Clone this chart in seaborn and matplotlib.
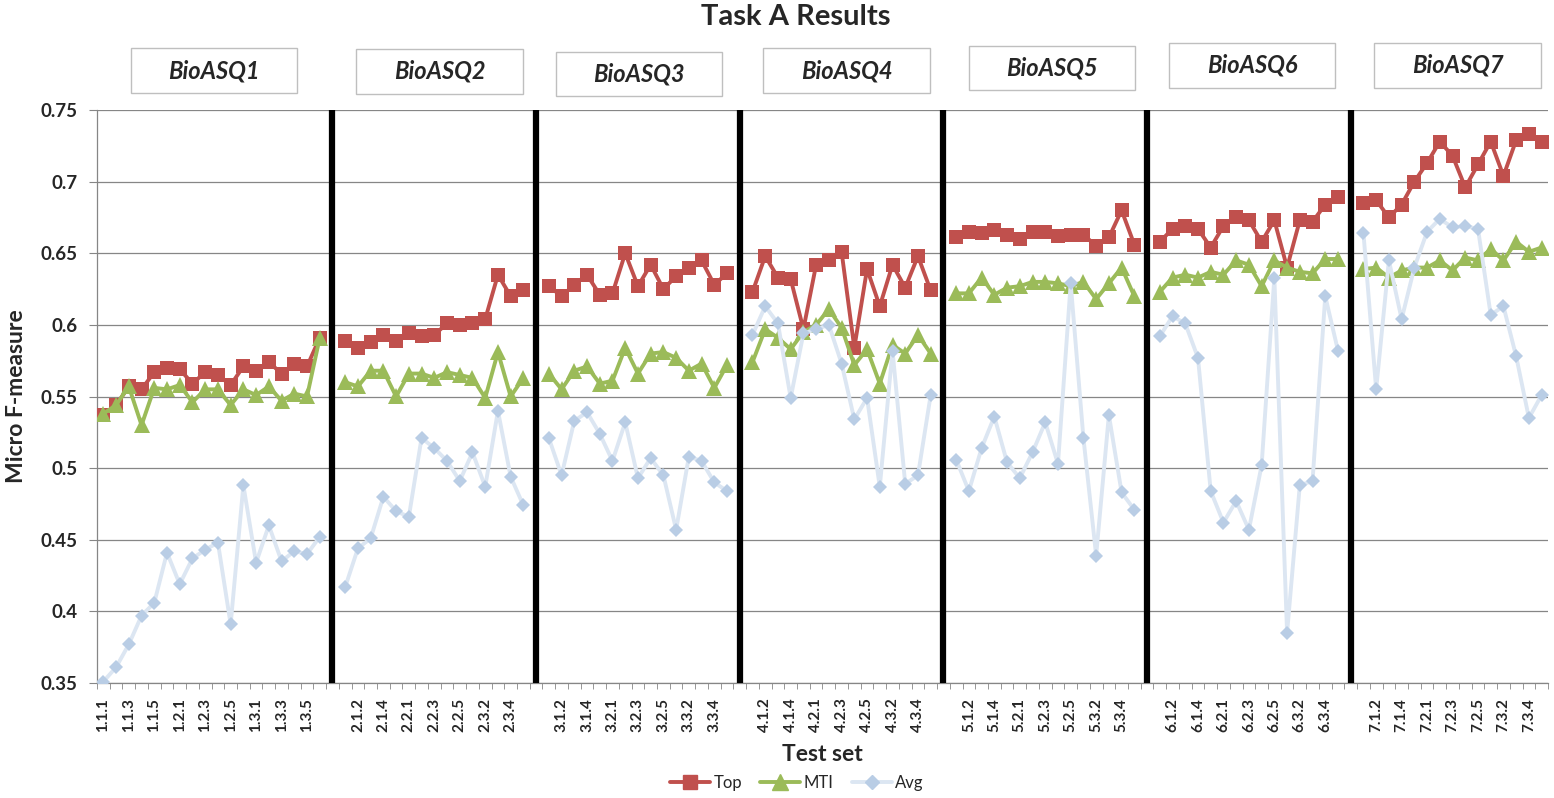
import matplotlib
matplotlib.use('Agg')
import matplotlib.pyplot as plt
from matplotlib.lines import Line2D
from matplotlib.patches import Rectangle
import seaborn as sns
import numpy as np
import pandas as pd

# editions and their test sets (BioASQ1 had 3 batches of 6, the rest 3 batches of 5)
editions = ['BioASQ1', 'BioASQ2', 'BioASQ3', 'BioASQ4', 'BioASQ5', 'BioASQ6', 'BioASQ7']
sets_per_batch = [6, 5, 5, 5, 5, 5, 5]

# Micro F-measure, one line per edition
top_scores = [
    0.537, 0.544, 0.557, 0.555, 0.567, 0.570, 0.569, 0.559, 0.567, 0.565, 0.558, 0.571, 0.568, 0.574, 0.566, 0.573, 0.571, 0.591,
    0.589, 0.584, 0.588, 0.593, 0.589, 0.594, 0.592, 0.593, 0.601, 0.600, 0.601, 0.604, 0.635, 0.620, 0.624,
    0.627, 0.620, 0.628, 0.635, 0.621, 0.622, 0.650, 0.627, 0.642, 0.625, 0.634, 0.640, 0.645, 0.628, 0.636,
    0.623, 0.648, 0.633, 0.632, 0.597, 0.642, 0.645, 0.651, 0.584, 0.639, 0.613, 0.642, 0.626, 0.648, 0.624,
    0.661, 0.665, 0.664, 0.666, 0.663, 0.660, 0.665, 0.665, 0.662, 0.663, 0.663, 0.655, 0.661, 0.680, 0.656,
    0.658, 0.667, 0.669, 0.667, 0.654, 0.669, 0.675, 0.673, 0.658, 0.673, 0.640, 0.673, 0.672, 0.684, 0.689,
    0.685, 0.687, 0.675, 0.684, 0.700, 0.713, 0.728, 0.718, 0.696, 0.712, 0.728, 0.704, 0.729, 0.733, 0.728,
]
mti_scores = [
    0.538, 0.544, 0.557, 0.530, 0.556, 0.555, 0.558, 0.546, 0.555, 0.555, 0.544, 0.555, 0.551, 0.557, 0.547, 0.552, 0.550, 0.591,
    0.560, 0.557, 0.568, 0.568, 0.550, 0.566, 0.566, 0.563, 0.567, 0.565, 0.563, 0.549, 0.581, 0.550, 0.563,
    0.566, 0.555, 0.568, 0.571, 0.559, 0.561, 0.584, 0.566, 0.580, 0.581, 0.577, 0.568, 0.573, 0.556, 0.572,
    0.574, 0.597, 0.591, 0.583, 0.595, 0.600, 0.611, 0.598, 0.572, 0.583, 0.559, 0.586, 0.580, 0.593, 0.580,
    0.622, 0.622, 0.633, 0.621, 0.626, 0.627, 0.630, 0.630, 0.629, 0.627, 0.630, 0.618, 0.629, 0.640, 0.620,
    0.623, 0.633, 0.635, 0.633, 0.637, 0.635, 0.645, 0.642, 0.627, 0.645, 0.640, 0.637, 0.636, 0.646, 0.646,
    0.639, 0.640, 0.633, 0.638, 0.640, 0.640, 0.645, 0.638, 0.647, 0.645, 0.653, 0.645, 0.658, 0.651, 0.654,
]
avg_scores = [
    0.351, 0.361, 0.377, 0.397, 0.406, 0.441, 0.419, 0.437, 0.443, 0.448, 0.391, 0.488, 0.434, 0.460, 0.435, 0.442, 0.440, 0.452,
    0.417, 0.444, 0.451, 0.480, 0.470, 0.466, 0.521, 0.514, 0.505, 0.491, 0.511, 0.487, 0.540, 0.494, 0.474,
    0.521, 0.495, 0.533, 0.539, 0.524, 0.505, 0.532, 0.493, 0.507, 0.495, 0.457, 0.508, 0.505, 0.490, 0.484,
    0.593, 0.613, 0.601, 0.549, 0.594, 0.597, 0.600, 0.573, 0.534, 0.549, 0.487, 0.582, 0.489, 0.495, 0.551,
    0.506, 0.484, 0.514, 0.536, 0.504, 0.493, 0.511, 0.532, 0.503, 0.629, 0.521, 0.439, 0.537, 0.483, 0.471,
    0.592, 0.606, 0.601, 0.577, 0.484, 0.462, 0.477, 0.457, 0.502, 0.633, 0.385, 0.488, 0.491, 0.620, 0.582,
    0.664, 0.555, 0.645, 0.604, 0.640, 0.665, 0.674, 0.668, 0.669, 0.667, 0.607, 0.613, 0.578, 0.535, 0.551,
]

# category axis: test sets, with one blank slot between editions
categories = []
set_names = []
set_edition = []
set_pos = []
for e, n in enumerate(sets_per_batch, 1):
    if e > 1:
        categories.append('')
    for b in range(1, 4):
        for t in range(1, n + 1):
            name = f'{e}.{b}.{t}'
            set_pos.append(len(categories))
            categories.append(name)
            set_names.append(name)
            set_edition.append(editions[e - 1])
separators = [i for i, c in enumerate(categories) if c == '']

df = pd.DataFrame({
    'pos': set_pos * 3,
    'test_set': set_names * 3,
    'edition': set_edition * 3,
    'series': ['Top'] * len(set_names) + ['MTI'] * len(set_names) + ['Avg'] * len(set_names),
    'score': top_scores + mti_scores + avg_scores,
})

W, H = 1554, 798
sns.set_style('white')
plt.rcParams['font.family'] = ['Lato', 'DejaVu Sans']

fig = plt.figure(figsize=(W / 100, H / 100), dpi=100)
ax = fig.add_axes([97 / W, 1 - 683 / H, (1548 - 97) / W, (683 - 110) / H])

red, green = '#C0504D', '#9BBB59'
avg_line, avg_mark = '#DCE6F2', '#B9CDE5'
styles = {
    'Top': dict(color=red, marker='s', markersize=9.5, markerfacecolor=red, markeredgecolor=red),
    'MTI': dict(color=green, marker='^', markersize=11, markerfacecolor=green, markeredgecolor=green),
    'Avg': dict(color=avg_line, marker='D', markersize=6.8, markerfacecolor=avg_mark, markeredgecolor=avg_mark),
}
for i, s in enumerate(['Top', 'MTI', 'Avg']):
    sns.lineplot(data=df[df.series == s], x='pos', y='score', units='edition', estimator=None,
                 linewidth=2.8, markeredgewidth=0, ax=ax, legend=False, zorder=3 + i, **styles[s])

# thick black bars between editions
ax.vlines(separators, 0.35, 0.75, color='black', linewidth=4.5, zorder=10)

ax.set_xlim(-0.5, len(categories) - 0.5)
ax.set_ylim(0.35, 0.75)
ax.set_yticks(np.arange(0.35, 0.7501, 0.05))
ax.set_yticklabels([f'{v:g}' for v in np.round(np.arange(0.35, 0.7501, 0.05), 2)])
ax.set_xticks(range(0, len(categories), 2))
ax.set_xticklabels(categories[::2], rotation=90)
ax.set_xticks(np.arange(-0.5, len(categories), 1), minor=True)
ax.tick_params(axis='x', which='major', length=0, pad=11, labelsize=11)
ax.tick_params(axis='x', which='minor', length=4, color='#868686', direction='out', bottom=True)
ax.tick_params(axis='y', length=6, color='#868686', direction='out', left=True, labelsize=13.5, pad=8)
for lab in ax.get_xticklabels() + ax.get_yticklabels():
    lab.set_fontweight('bold')

ax.yaxis.grid(True, color='#868686', linewidth=0.9)
ax.set_axisbelow(True)
for side in ['top', 'right']:
    ax.spines[side].set_visible(False)
for side in ['left', 'bottom']:
    ax.spines[side].set_color('#868686')
    ax.spines[side].set_linewidth(0.9)

ax.set_xlabel('Test set', fontsize=16.5, fontweight='bold', labelpad=8)
ax.set_ylabel('Micro F-measure', fontsize=16.5, fontweight='bold', labelpad=10)

fig.text(796 / W, 1 - 17 / H, 'Task A Results', ha='center', va='center',
         fontsize=21, fontweight='bold')

# edition name boxes above the plot
boxes = [(131, 48, 297, 93), (356, 49, 523, 94), (556, 52, 722, 96), (763, 48, 930, 93),
         (969, 46, 1135, 90), (1169, 43, 1335, 88), (1374, 43, 1541, 88)]
for name, (x0, y0, x1, y1) in zip(editions, boxes):
    fig.add_artist(Rectangle((x0 / W, 1 - y1 / H), (x1 - x0) / W, (y1 - y0) / H,
                             transform=fig.transFigure, facecolor='white',
                             edgecolor='#BFBFBF', linewidth=1))
    fig.text((x0 + x1) / 2 / W, 1 - (y0 + y1) / 2 / H, name, ha='center', va='center',
             fontsize=17, fontweight='bold', fontstyle='italic')

handles = [Line2D([], [], linewidth=2.8, **styles[s]) for s in ['Top', 'MTI', 'Avg']]
fig.legend(handles, ['Top', 'MTI', 'Avg'], loc='center', bbox_to_anchor=(797 / W, 1 - 783 / H),
           ncol=3, frameon=False, fontsize=12, handlelength=2.4, handletextpad=0.2,
           columnspacing=1.1, numpoints=1)

fig.savefig('out.png', dpi=100)
